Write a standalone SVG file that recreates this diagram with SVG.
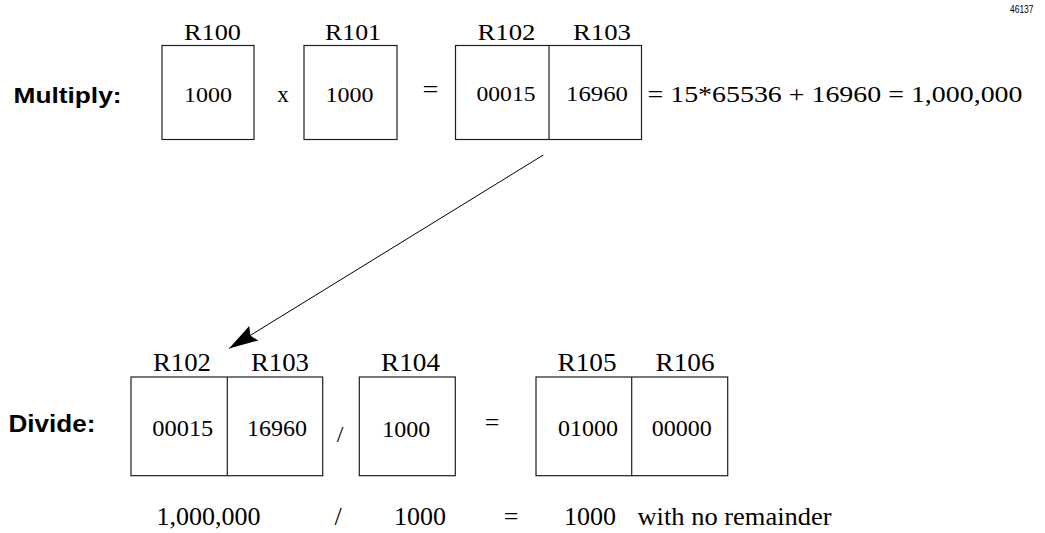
<svg xmlns="http://www.w3.org/2000/svg" width="1045" height="533" viewBox="0 0 1045 533">
<style>
.box{fill:none;stroke:#1e1e1e;stroke-width:1.2}
.t{font-family:"Liberation Serif","Times New Roman",serif;fill:#000}
.h{font-family:"Liberation Sans",Arial,sans-serif;font-weight:bold;fill:#000}
.s{font-family:"Liberation Sans",Arial,sans-serif;fill:#000}
.c{text-anchor:middle}
.lt{font-size:23px}
.lb{font-size:26px}
.nt{font-size:21px}
.nb{font-size:24px}
.cn{stroke:#000;stroke-width:1;fill:none}
</style>
<defs>
<marker id="ah" markerUnits="userSpaceOnUse" markerWidth="31" markerHeight="19" refX="29" refY="8.5" orient="auto" overflow="visible">
<path d="M0,0 L29,8.5 L0,17 L4,8.5 Z" fill="#000"/>
</marker>
</defs>
<text class="s" x="1010" y="12.5" font-size="11" textLength="23.5" lengthAdjust="spacingAndGlyphs">46137</text>
<text class="h" x="13.5" y="103.3" font-size="22.5" textLength="108" lengthAdjust="spacingAndGlyphs">Multiply:</text>
<text class="h" x="8.5" y="431.7" font-size="24" textLength="87" lengthAdjust="spacingAndGlyphs">Divide:</text>
<g id="r100">
<rect class="box" x="162" y="45.5" width="92" height="94"/>
<text class="t c lt" x="212.5" y="39.5" textLength="57" lengthAdjust="spacingAndGlyphs">R100</text>
<text class="t c nt" x="208" y="101.7" textLength="48" lengthAdjust="spacingAndGlyphs">1000</text>
</g>
<text class="t c" x="283" y="101.7" font-size="23">x</text>
<g id="r101">
<rect class="box" x="304" y="45.5" width="93" height="94"/>
<text class="t c lt" x="353" y="39.5" textLength="56" lengthAdjust="spacingAndGlyphs">R101</text>
<text class="t c nt" x="349.5" y="101.7" textLength="48" lengthAdjust="spacingAndGlyphs">1000</text>
</g>
<text class="t c" x="430.5" y="96.5" font-size="24" textLength="16" lengthAdjust="spacingAndGlyphs">=</text>
<g id="r102r103top">
<rect class="box" x="455.5" y="45.5" width="186" height="94"/>
<line class="box" x1="549" y1="45.5" x2="549" y2="139.5"/>
<text class="t c lt" x="506.5" y="39.5" textLength="58" lengthAdjust="spacingAndGlyphs">R102</text>
<text class="t c lt" x="602" y="39.5" textLength="58" lengthAdjust="spacingAndGlyphs">R103</text>
<text class="t c nt" x="506" y="100.5" textLength="59" lengthAdjust="spacingAndGlyphs">00015</text>
<text class="t c nt" x="597" y="100.5" textLength="62" lengthAdjust="spacingAndGlyphs">16960</text>
</g>
<text class="t" x="647.5" y="101.7" font-size="23" textLength="375" lengthAdjust="spacingAndGlyphs">= 15*65536 + 16960 = 1,000,000</text>
<g id="connectors">
<line class="cn" x1="543.3" y1="155" x2="229" y2="348.5" marker-end="url(#ah)"/>
</g>
<g id="r102r103bottom">
<rect class="box" x="131" y="377" width="191.7" height="98.7"/>
<line class="box" x1="227.3" y1="377" x2="227.3" y2="475.7"/>
<text class="t c lb" x="182" y="371" textLength="58" lengthAdjust="spacingAndGlyphs">R102</text>
<text class="t c lb" x="280" y="371" textLength="58" lengthAdjust="spacingAndGlyphs">R103</text>
<text class="t c nb" x="182.8" y="436" textLength="61" lengthAdjust="spacingAndGlyphs">00015</text>
<text class="t c nb" x="277" y="436" textLength="60" lengthAdjust="spacingAndGlyphs">16960</text>
</g>
<text class="t c" x="340" y="441.5" font-size="24">/</text>
<g id="r104">
<rect class="box" x="359.3" y="377" width="96" height="98.7"/>
<text class="t c lb" x="410.5" y="371" textLength="59" lengthAdjust="spacingAndGlyphs">R104</text>
<text class="t c nb" x="406.3" y="437.3">1000</text>
</g>
<text class="t c" x="492" y="430.5" font-size="26">=</text>
<g id="r105r106">
<rect class="box" x="536" y="377" width="191.7" height="98.7"/>
<line class="box" x1="631.7" y1="377" x2="631.7" y2="475.7"/>
<text class="t c lb" x="587" y="371" textLength="59" lengthAdjust="spacingAndGlyphs">R105</text>
<text class="t c lb" x="685" y="371" textLength="59" lengthAdjust="spacingAndGlyphs">R106</text>
<text class="t c nb" x="588" y="436" textLength="60" lengthAdjust="spacingAndGlyphs">01000</text>
<text class="t c nb" x="681.7" y="436" textLength="60" lengthAdjust="spacingAndGlyphs">00000</text>
</g>
<g id="result">
<text class="t" x="156.5" y="525" font-size="26">1,000,000</text>
<text class="t c" x="338" y="525" font-size="26">/</text>
<text class="t c" x="420" y="525" font-size="26">1000</text>
<text class="t c" x="511" y="525" font-size="26">=</text>
<text class="t c" x="590" y="525" font-size="26">1000</text>
<text class="t" x="637.5" y="525" font-size="26" textLength="194" lengthAdjust="spacingAndGlyphs">with no remainder</text>
</g>
</svg>
